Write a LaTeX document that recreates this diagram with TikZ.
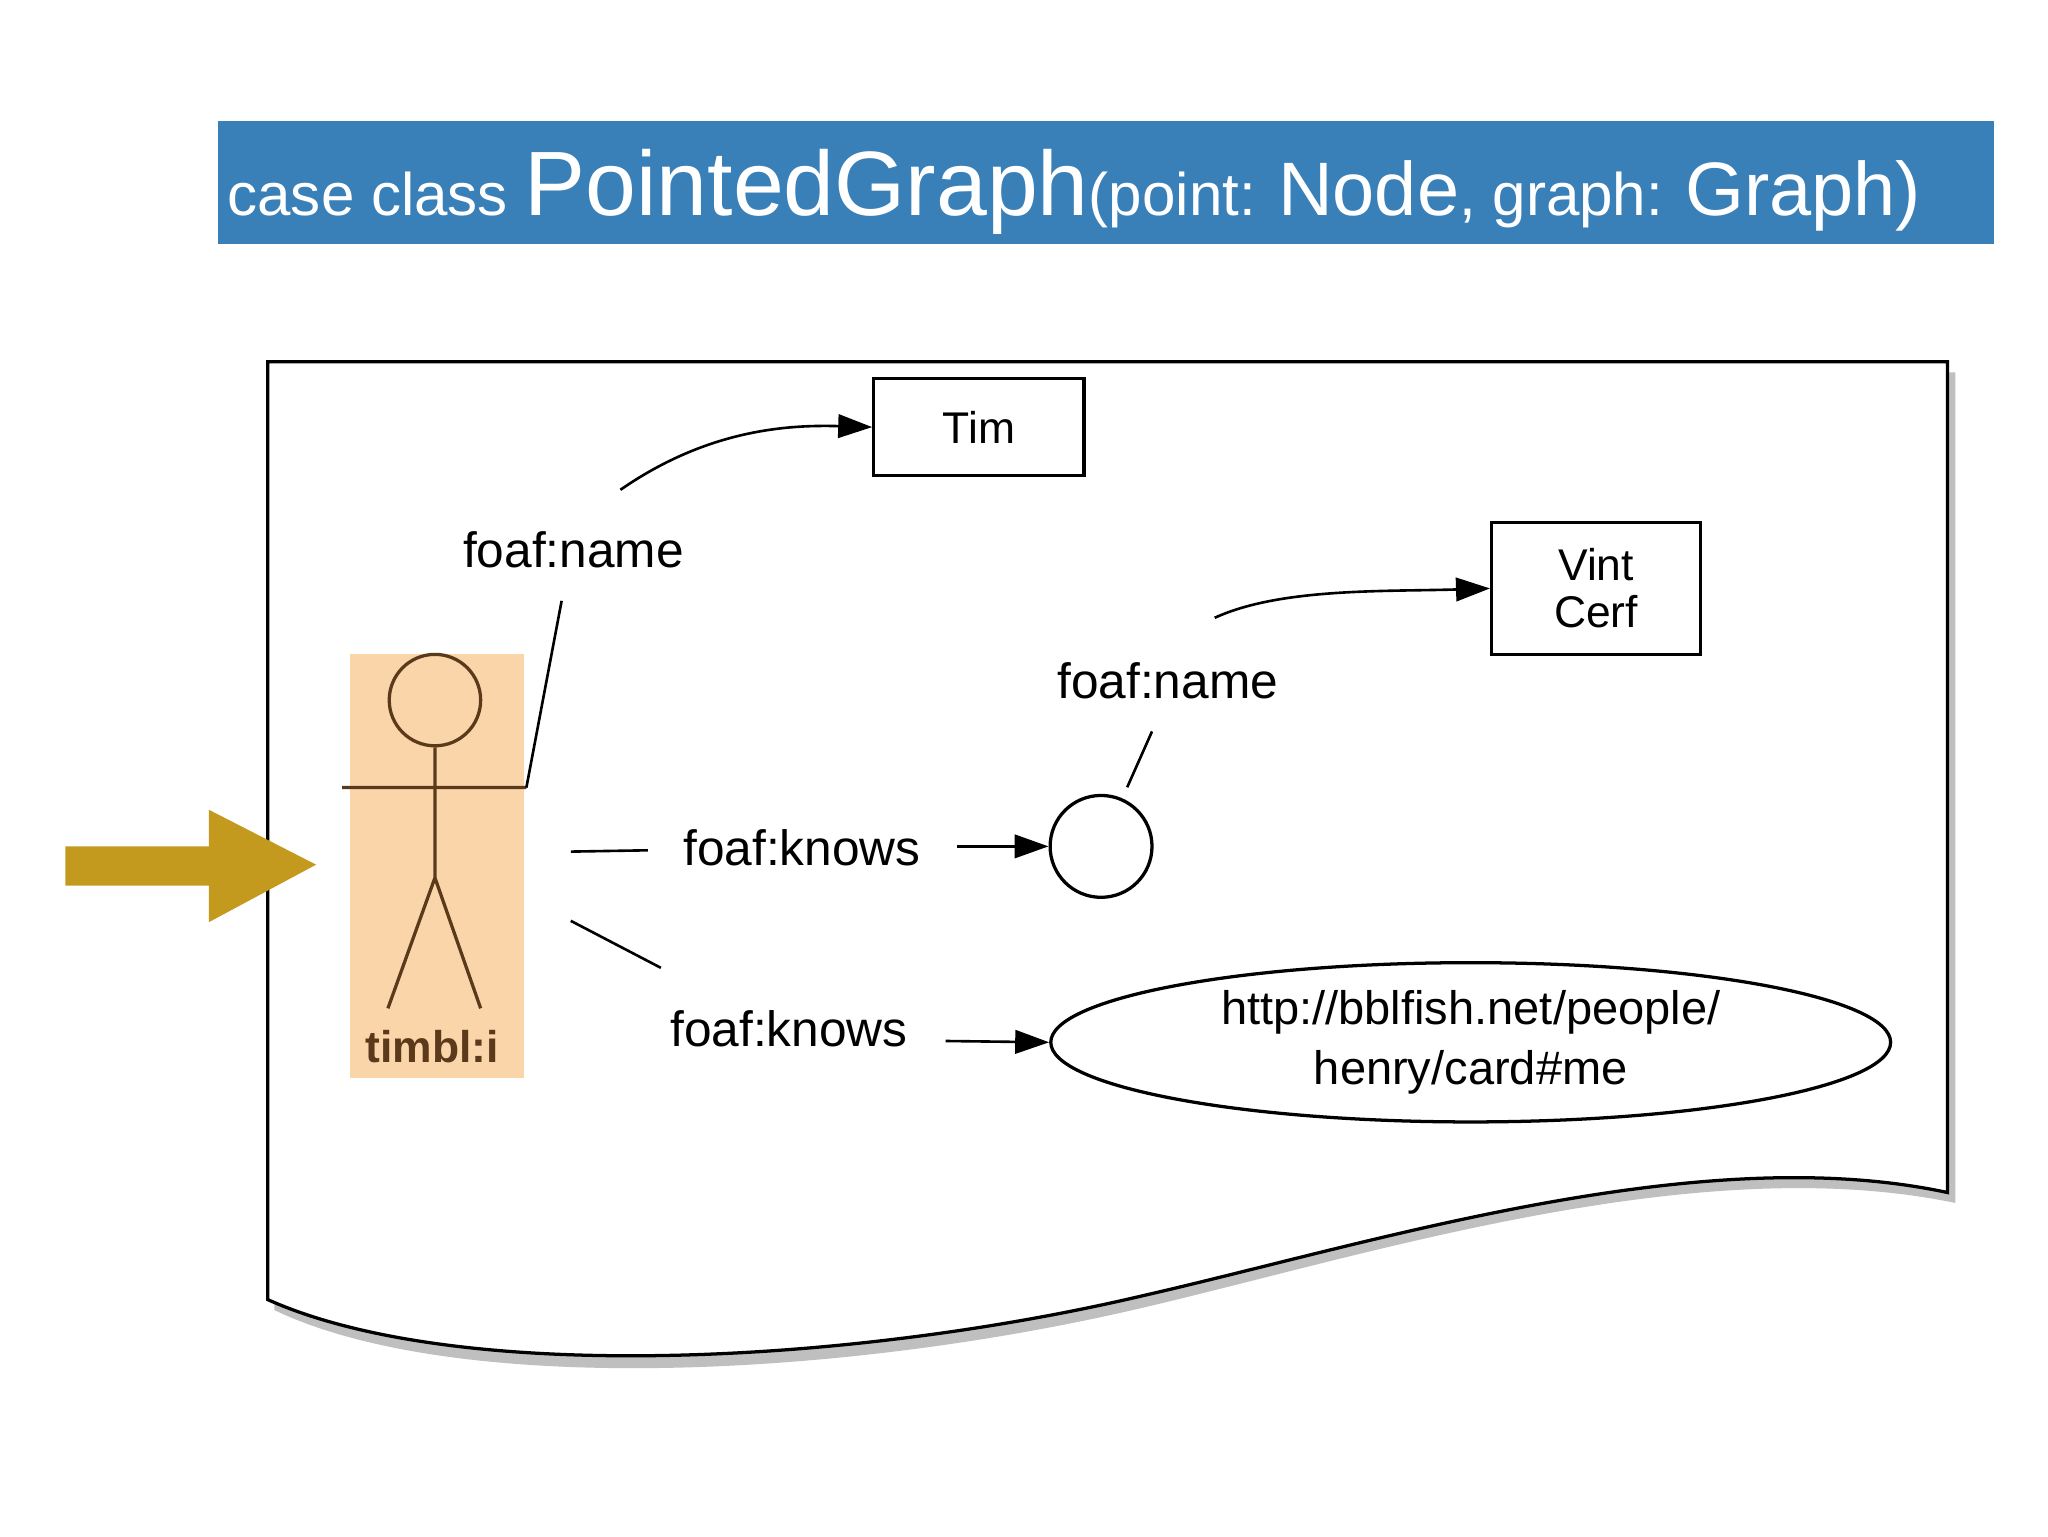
\documentclass[tikz,border=0pt]{standalone}
\usepackage{fontspec}
\setmainfont{Liberation Sans}
\usetikzlibrary{arrows.meta,shapes.geometric}
\definecolor{banner}{HTML}{3A80B8}
\definecolor{skin}{HTML}{FBD5AA}
\definecolor{gold}{HTML}{C49A1E}
\definecolor{brown}{HTML}{5A3A1A}
\begin{document}
\begin{tikzpicture}[x=1pt,y=-1pt,
  lab/.style={font=\fontsize{38}{40}\selectfont},
  con/.style={line width=2pt},
  arr/.style={line width=2pt,-{Triangle[length=26pt,width=18pt]}},
  boxn/.style={draw,line width=2.5pt,font=\fontsize{34}{40}\selectfont,align=center}]
\useasboundingbox (0,0) rectangle (1568,1176);
\fill[white] (0,0) rectangle (1568,1176);
% banner
\fill[banner] (167,93) rectangle (1527,187);
\node[text=white,anchor=base west,inner sep=0] (title) at (174,165)
 {\fontsize{46}{50}\selectfont case class \fontsize{70}{70}\selectfont PointedGraph\fontsize{46}{50}\selectfont(point: \fontsize{58}{60}\selectfont Node\fontsize{46}{50}\selectfont, graph: \fontsize{58}{60}\selectfont Graph)};
% paper
\fill[black!25] (210,285) -- (1497,285) -- (1497,921) .. controls (1300,880) and (1050,960) .. (880,1000) .. controls (650,1055) and (350,1070) .. (210,1003) -- cycle;
\draw[line width=2.5pt,fill=white] (205,277) -- (1491,277) -- (1491,913) .. controls (1300,872) and (1050,952) .. (875,992) .. controls (650,1045) and (350,1060) .. (205,995) -- cycle;
% stick figure
\fill[skin] (268,501) rectangle (401,825);
\node[draw=brown,line width=2.5pt,circle,minimum size=70pt,inner sep=0] (head) at (333,536) {};
\coordinate (hip) at (333,672);
\coordinate (lh) at (262,603); \coordinate (rh) at (403,603);
\coordinate (lf) at (297,772); \coordinate (rf) at (368,772);
\draw[brown,line width=2.5pt] (head.south) -- (hip) (lh) -- (rh) (lf) -- (hip) -- (rf);
\node[text=brown,font=\bfseries\fontsize{34}{36}\selectfont] (timbl) at (331,801) {timbl:i};
% nodes
\node[boxn,minimum width=161pt,minimum height=74pt] (tim) at (749.5,327) {Tim};
\node[boxn,minimum width=160pt,minimum height=101pt] (vint) at (1222,450.5) {Vint\\[-4pt]Cerf};
\node[draw,line width=2.5pt,circle,minimum size=78pt,inner sep=0] (bn) at (843,648) {};
\node[draw,line width=2.5pt,ellipse,minimum width=643pt,minimum height=110pt,align=center,font=\fontsize{36}{46}\selectfont] (henry) at (1126,798) {http://bblfish.net/people/\\henry/card\#me};
% labels
\node[lab] (n1) at (439,421) {foaf:name};
\node[lab] (n2) at (894,521) {foaf:name};
\node[lab] (k1) at (614,649) {foaf:knows};
\node[lab] (k2) at (604,788) {foaf:knows};
% connectors
\draw[con] (rh) -- (430,460);
\draw[arr] (475,375) .. controls (540,330) and (600,325) .. (tim.west);
\draw[con] (bn.north) ++(20,-5) coordinate (c1) -- (882,560);
\draw[arr] (930,473) .. controls (980,450) and (1060,453) .. (vint.west);
\draw[con] (437,652) -- (496,651);
\draw[arr] (733,648) -- (bn.west);
\draw[con] (437,705) -- (506,741);
\draw[arr] (724,797) -- (henry.west);
% gold arrow
\fill[gold] (50,648) -- (160,648) -- (160,620) -- (242,662) -- (160,706) -- (160,678) -- (50,678) -- cycle;
\end{tikzpicture}
\end{document}
